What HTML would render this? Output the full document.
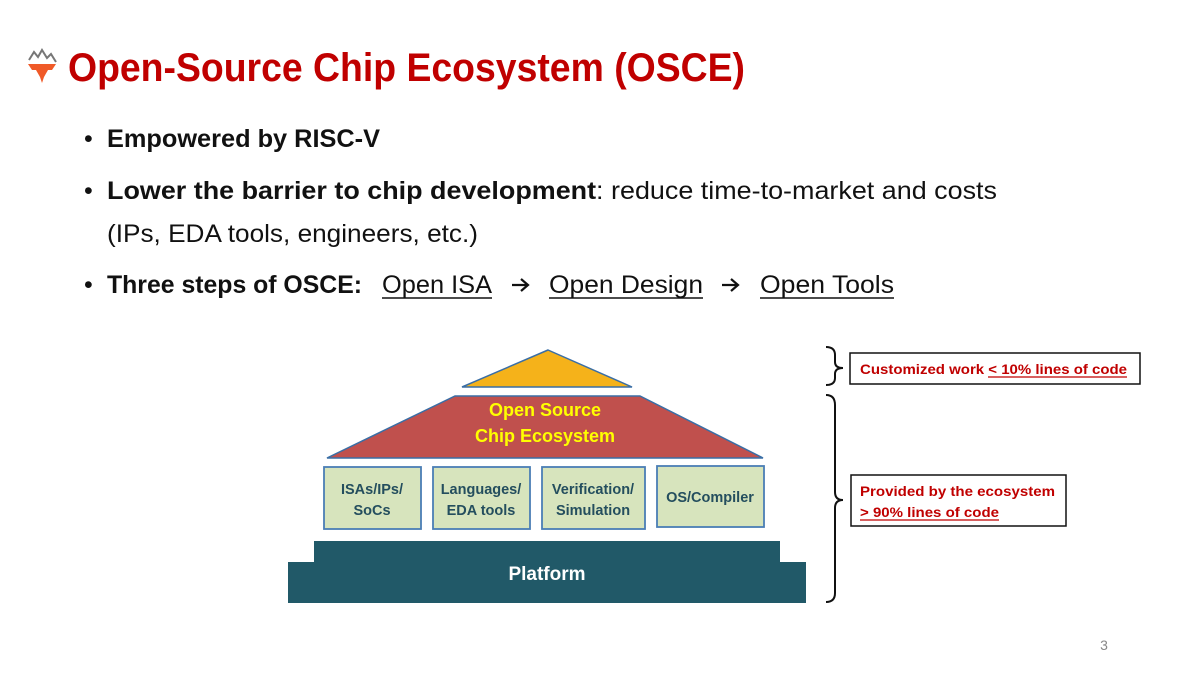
<!DOCTYPE html>
<html><head><meta charset="utf-8"><style>
html,body{margin:0;padding:0;background:#fff;}
svg{display:block;font-family:"Liberation Sans",sans-serif;}
</style></head><body>
<svg width="1200" height="675" viewBox="0 0 1200 675" xmlns="http://www.w3.org/2000/svg">
<rect width="1200" height="675" fill="#fff"/>
<polyline points="29,60 34,52 38,57 42,50 47,58 51,54 56,62" fill="none" stroke="#777" stroke-width="2"/>
<polygon points="28,64 56,64 52,70 48,70 44,77 42,83 40,77 36,70 32,70" fill="#f05a28"/>
<text x="68" y="81" font-size="40" font-weight="bold" fill="#c00000" textLength="677" lengthAdjust="spacingAndGlyphs">Open-Source Chip Ecosystem (OSCE)</text>
<g font-size="25" fill="#111">
<text x="84" y="147">•</text>
<text x="107" y="147" font-weight="bold" textLength="273" lengthAdjust="spacingAndGlyphs">Empowered by RISC-V</text>
<text x="84" y="199">•</text>
<text x="107" y="199" textLength="890" lengthAdjust="spacingAndGlyphs"><tspan font-weight="bold">Lower the barrier to chip development</tspan>: reduce time-to-market and costs</text>
<text x="107" y="242" textLength="371" lengthAdjust="spacingAndGlyphs">(IPs, EDA tools, engineers, etc.)</text>
<text x="84" y="293">•</text>
<text x="107" y="293" font-weight="bold" textLength="255" lengthAdjust="spacingAndGlyphs">Three steps of OSCE:</text>
<text x="382" y="293" textLength="110" lengthAdjust="spacingAndGlyphs">Open ISA</text>
<text x="549" y="293" textLength="154" lengthAdjust="spacingAndGlyphs">Open Design</text>
<text x="760" y="293" textLength="134" lengthAdjust="spacingAndGlyphs">Open Tools</text>
</g>
<g stroke="#111" stroke-width="1.6" fill="none">
<line x1="382" y1="298" x2="492" y2="298"/>
<line x1="549" y1="298" x2="703" y2="298"/>
<line x1="760" y1="298" x2="894" y2="298"/>
<path d="M512,285 H527 M521,279 L528,285 L521,291" stroke-width="2.2"/>
<path d="M722,285 H737 M731,279 L738,285 L731,291" stroke-width="2.2"/>
</g>
<polygon points="548,350 632,387 462,387" fill="#f5b21a" stroke="#3a6ea5" stroke-width="1.5"/>
<polygon points="455,396 640,396 763,458 327,458" fill="#c0504d" stroke="#3a6ea5" stroke-width="1.5"/>
<text x="545" y="416" font-size="18" font-weight="bold" fill="#ffff00" text-anchor="middle">Open Source</text>
<text x="545" y="442" font-size="18" font-weight="bold" fill="#ffff00" text-anchor="middle">Chip Ecosystem</text>
<g fill="#d7e4bd" stroke="#4a7eb5" stroke-width="1.8">
<rect x="324" y="467" width="97" height="62"/>
<rect x="433" y="467" width="97" height="62"/>
<rect x="542" y="467" width="103" height="62"/>
<rect x="657" y="466" width="107" height="61"/>
</g>
<g font-size="14.5" font-weight="bold" fill="#244e5e" text-anchor="middle">
<text x="372" y="494">ISAs/IPs/</text><text x="372" y="515">SoCs</text>
<text x="481" y="494">Languages/</text><text x="481" y="515">EDA tools</text>
<text x="593" y="494">Verification/</text><text x="593" y="515">Simulation</text>
<text x="710" y="502">OS/Compiler</text>
</g>
<polygon points="314,541 780,541 780,562 806,562 806,603 288,603 288,562 314,562" fill="#215968"/>
<text x="547" y="580" font-size="19" font-weight="bold" fill="#fff" text-anchor="middle">Platform</text>
<g fill="none" stroke="#111" stroke-width="2">
<path d="M826,347 Q835,347 835,355 V362 Q835,368 843,368 Q835,368 835,374 V378 Q835,385 826,385"/>
<path d="M826,395 Q835,395 835,405 V492 Q835,500 843,500 Q835,500 835,508 V593 Q835,602 826,602"/>
</g>
<rect x="850" y="353" width="290" height="31" fill="#fff" stroke="#111" stroke-width="1.5"/>
<text x="860" y="374" font-size="14" font-weight="bold" fill="#c00000" textLength="267" lengthAdjust="spacingAndGlyphs">Customized work &lt; 10% lines of code</text>
<line x1="988" y1="377" x2="1127" y2="377" stroke="#c00000" stroke-width="1.3"/>
<rect x="851" y="475" width="215" height="51" fill="#fff" stroke="#111" stroke-width="1.5"/>
<text x="860" y="496" font-size="14" font-weight="bold" fill="#c00000" textLength="195" lengthAdjust="spacingAndGlyphs">Provided by the ecosystem</text>
<text x="860" y="517" font-size="14" font-weight="bold" fill="#c00000" textLength="139" lengthAdjust="spacingAndGlyphs">&gt; 90% lines of code</text>
<line x1="860" y1="520" x2="999" y2="520" stroke="#c00000" stroke-width="1.3"/>
<text x="1104" y="650" font-size="14" fill="#888" text-anchor="middle">3</text>
</svg>
</body></html>
